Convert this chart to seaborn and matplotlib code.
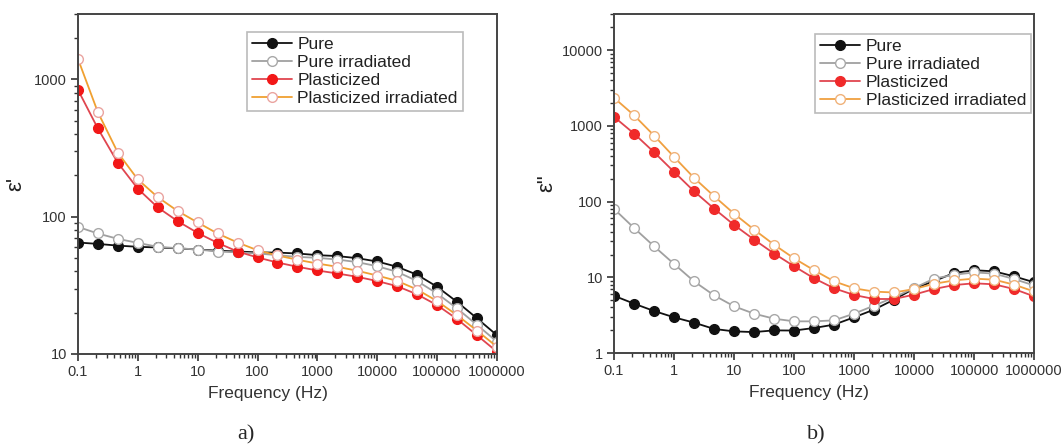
import matplotlib
matplotlib.use("Agg")
import matplotlib.pyplot as plt
import seaborn as sns
from matplotlib.ticker import FixedLocator, LogLocator, NullFormatter

# ---------------- data ----------------
freq = [0.1, 0.215, 0.464, 1, 2.15, 4.64, 10, 21.5, 46.4, 100, 215, 464,
        1000, 2150, 4640, 1e4, 2.15e4, 4.64e4, 1e5, 2.15e5, 4.64e5, 1e6]

series_names = ["Pure", "Pure irradiated", "Plasticized", "Plasticized irradiated"]

# panel a) real permittivity eps'
eps1_pure = [64.9, 63.4, 61.6, 60.4, 59.7, 58.8, 57.7, 56.6, 55.8, 55.0, 54.8, 54.0,
             52.5, 51.7, 49.9, 47.2, 43.2, 37.8, 30.9, 24.0, 18.2, 13.7]
eps1_pure_irr = [84.3, 75.5, 69.0, 64.5, 60.4, 59.0, 57.7, 55.8, 55.0, 54.0, 52.5, 51.0,
                 50.2, 48.8, 46.7, 43.6, 39.7, 34.0, 27.6, 21.5, 16.3, 12.3]
eps1_plast = [841, 440, 247, 160, 117, 92.8, 76.2, 64.5, 55.8, 50.5, 46.4, 43.2,
              40.6, 38.6, 36.5, 34.0, 31.2, 27.2, 22.7, 18.0, 13.7, 10.4]
eps1_plast_irr = [1413, 578, 293, 187, 139, 110, 90.8, 75.5, 64.9, 57.0, 52.2, 48.6,
                  45.6, 43.2, 40.4, 37.3, 34.1, 29.5, 24.3, 19.2, 14.8, 11.3]

# panel b) imaginary permittivity eps''
eps2_pure = [5.7, 4.49, 3.59, 2.96, 2.52, 2.08, 1.93, 1.89, 1.99, 1.98, 2.14, 2.37,
             2.96, 3.74, 5.07, 7.1, 8.9, 11.4, 12.4, 12.0, 10.3, 8.6]
eps2_pure_irr = [80, 44.9, 25.7, 15.0, 8.85, 5.78, 4.14, 3.31, 2.84, 2.62, 2.62, 2.70,
                 3.31, 4.22, 5.44, 7.2, 9.6, 10.8, 11.6, 11.2, 9.5, 7.8]
eps2_plast = [1315, 792, 449, 247, 137, 80.8, 49.2, 31.5, 20.6, 14.0, 9.7, 7.16,
              5.84, 5.17, 5.17, 5.9, 7.0, 7.9, 8.33, 8.08, 7.0, 5.6]
eps2_plast_irr = [2344, 1383, 745, 389, 206, 118, 69.3, 42.7, 27.0, 17.8, 12.4, 8.85,
                  7.16, 6.47, 6.3, 7.0, 8.2, 9.1, 9.6, 9.3, 8.0, 6.5]

xtick_values = [0.1, 1, 10, 100, 1000, 10000, 100000, 1000000]
xtick_labels = ["0.1", "1", "10", "100", "1000", "10000", "100000", "1000000"]
ytick_values_a = [10, 100, 1000]
ytick_labels_a = ["10", "100", "1000"]
ytick_values_b = [1, 10, 100, 1000, 10000]
ytick_labels_b = ["1", "10", "100", "1000", "10000"]

# ---------------- style ----------------
sns.set_style("ticks")
plt.rcParams["font.family"] = ["Liberation Sans", "DejaVu Sans"]

styles_a = {
    "Pure": dict(color="#111111", markerfacecolor="#111111", markeredgecolor="#111111"),
    "Pure irradiated": dict(color="#a0a0a0", markerfacecolor="white", markeredgecolor="#a8a8a8"),
    "Plasticized": dict(color="#e0454f", markerfacecolor="#f21818", markeredgecolor="#f21818"),
    "Plasticized irradiated": dict(color="#f0a030", markerfacecolor="white", markeredgecolor="#eaa4a0"),
}
styles_b = {
    "Pure": dict(color="#111111", markerfacecolor="#111111", markeredgecolor="#111111"),
    "Pure irradiated": dict(color="#a0a0a0", markerfacecolor="white", markeredgecolor="#a8a8a8"),
    "Plasticized": dict(color="#e0454f", markerfacecolor="#f02a2a", markeredgecolor="#f02a2a"),
    "Plasticized irradiated": dict(color="#f0a040", markerfacecolor="white", markeredgecolor="#f0b27a"),
}

fig = plt.figure(figsize=(10.62, 4.46), dpi=100)
ax1 = fig.add_axes([0.0734, 0.2063, 0.3945, 0.7623])
ax2 = fig.add_axes([0.5782, 0.2085, 0.3955, 0.7600])

panels = [
    (ax1, [eps1_pure, eps1_pure_irr, eps1_plast, eps1_plast_irr], (10, 3000), styles_a,
     ytick_values_a, ytick_labels_a, "ε'", (0.403, 0.947), (0.453, -0.095), (-0.124, 0.5)),
    (ax2, [eps2_pure, eps2_pure_irr, eps2_plast, eps2_plast_irr], (1, 30000), styles_b,
     ytick_values_b, ytick_labels_b, 'ε"', (0.479, 0.941), (0.464, -0.095), (-0.136, 0.5)),
]

for ax, ys, ylim, styles, yt, ytl, ylab, leg_anchor, xl_coords, yl_coords in panels:
    for name, vals in zip(series_names, ys):
        sns.lineplot(x=freq, y=vals, ax=ax, marker="o", markersize=7,
                     markeredgewidth=1.0, linewidth=1.3, label=name,
                     errorbar=None, **styles[name])
    ax.set_xscale("log")
    ax.set_yscale("log")
    ax.set_xlim(0.1, 1e6)
    ax.set_ylim(*ylim)
    ax.xaxis.set_major_locator(FixedLocator(xtick_values))
    ax.set_xticklabels(xtick_labels)
    ax.yaxis.set_major_locator(FixedLocator(yt))
    ax.set_yticklabels(ytl)
    ax.xaxis.set_minor_locator(LogLocator(base=10, subs=range(2, 10), numticks=20))
    ax.yaxis.set_minor_locator(LogLocator(base=10, subs=range(2, 10), numticks=20))
    ax.xaxis.set_minor_formatter(NullFormatter())
    ax.yaxis.set_minor_formatter(NullFormatter())
    ax.tick_params(which="major", direction="out", length=5, width=1.2,
                   labelsize=10.5, colors="#333333", pad=3)
    ax.tick_params(which="minor", direction="out", length=3, width=1.0, colors="#333333")
    for sp in ax.spines.values():
        sp.set_visible(True)
        sp.set_linewidth(1.4)
        sp.set_color("#444444")
    ax.set_xlabel("Frequency (Hz)", fontsize=12.5, color="#333333")
    ax.xaxis.set_label_coords(*xl_coords)
    ax.set_ylabel(ylab, fontsize=16, color="#222222")
    ax.yaxis.set_label_coords(*yl_coords)
    handles, labels = ax.get_legend_handles_labels()
    leg = ax.legend(handles[:4], labels[:4], loc="upper left", bbox_to_anchor=leg_anchor,
                    borderaxespad=0, frameon=True, fancybox=False, edgecolor="#aaaaaa",
                    fontsize=12.5, handlelength=2.3, handletextpad=0.3,
                    labelspacing=0.15, borderpad=0.3)
    leg.get_frame().set_linewidth(1.2)
    for t in leg.get_texts():
        t.set_color("#222222")

fig.text(246 / 1062, 1 - 435 / 446, "a)", ha="center", va="center",
         fontsize=16, family=["Liberation Serif", "DejaVu Serif"])
fig.text(816 / 1062, 1 - 435 / 446, "b)", ha="center", va="center",
         fontsize=16, family=["Liberation Serif", "DejaVu Serif"])

fig.savefig("out.png", dpi=100)
